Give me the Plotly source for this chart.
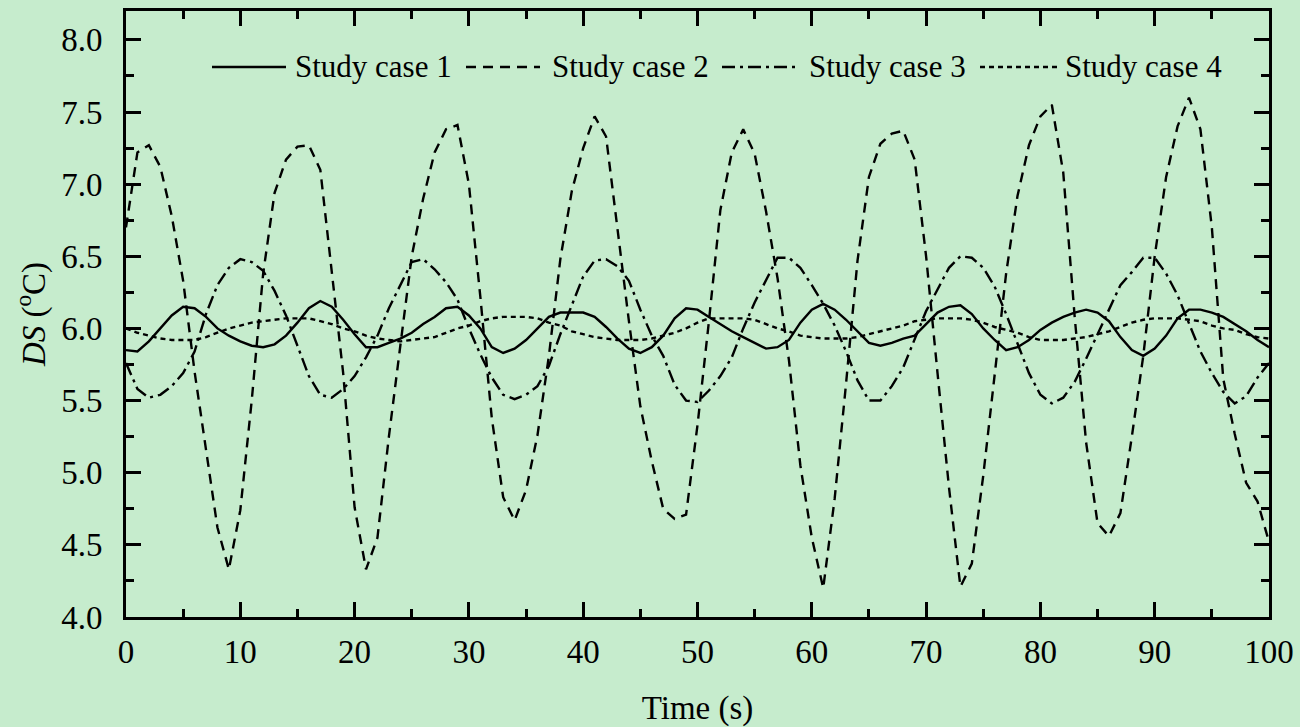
import plotly.graph_objects as go

# ---- data ----
time_s = list(range(0, 101))

case1 = [5.85, 5.84, 5.91, 6.00, 6.09, 6.15, 6.14, 6.08, 6.00, 5.95,
         5.91, 5.88, 5.87, 5.89, 5.95, 6.04, 6.14, 6.19, 6.15, 6.06,
         5.96, 5.87, 5.87, 5.90, 5.93, 5.97, 6.03, 6.08, 6.14, 6.15,
         6.09, 6.00, 5.87, 5.83, 5.86, 5.92, 6.00, 6.08, 6.11, 6.11,
         6.11, 6.08, 6.01, 5.93, 5.86, 5.83, 5.87, 5.95, 6.07, 6.14,
         6.13, 6.08, 6.03, 5.98, 5.94, 5.90, 5.86, 5.87, 5.92, 6.04,
         6.13, 6.17, 6.13, 6.06, 5.98, 5.90, 5.88, 5.90, 5.93, 5.95,
         6.03, 6.11, 6.15, 6.16, 6.10, 6.00, 5.92, 5.85, 5.87, 5.92,
         5.99, 6.04, 6.08, 6.11, 6.13, 6.11, 6.05, 5.94, 5.85, 5.81,
         5.86, 5.95, 6.07, 6.13, 6.13, 6.11, 6.08, 6.03, 5.98, 5.92,
         5.87]

case2 = [6.70, 7.22, 7.27, 7.12, 6.78, 6.33, 5.70, 5.17, 4.62, 4.33,
         4.74, 5.50, 6.38, 6.94, 7.17, 7.26, 7.27, 7.10, 6.38, 5.69,
         4.76, 4.33, 4.55, 5.25, 5.88, 6.50, 6.90, 7.22, 7.38, 7.41,
         7.00, 6.22, 5.38, 4.83, 4.67, 4.88, 5.26, 5.81, 6.48, 6.95,
         7.25, 7.47, 7.33, 6.69, 6.05, 5.46, 5.08, 4.75, 4.68, 4.71,
         5.33, 6.05, 6.82, 7.22, 7.38, 7.21, 6.81, 6.35, 5.78, 5.05,
         4.55, 4.20, 4.82, 5.62, 6.47, 7.05, 7.28, 7.35, 7.37, 7.17,
         6.50, 5.69, 4.90, 4.21, 4.37, 4.98, 5.69, 6.38, 6.92, 7.27,
         7.47, 7.55, 7.08, 6.08, 5.21, 4.65, 4.56, 4.72, 5.25, 5.81,
         6.50, 7.05, 7.40, 7.60, 7.38, 6.70, 5.65, 5.27, 4.93, 4.80,
         4.52]

case3 = [5.76, 5.58, 5.52, 5.54, 5.60, 5.69, 5.84, 6.10, 6.30, 6.42,
         6.48, 6.46, 6.40, 6.26, 6.09, 5.88, 5.67, 5.54, 5.52, 5.58,
         5.67, 5.80, 5.95, 6.14, 6.30, 6.46, 6.48, 6.41, 6.32, 6.20,
         6.00, 5.82, 5.66, 5.54, 5.51, 5.54, 5.60, 5.74, 5.96, 6.16,
         6.36, 6.47, 6.48, 6.43, 6.33, 6.13, 5.95, 5.81, 5.61, 5.50,
         5.49, 5.57, 5.67, 5.80, 6.00, 6.18, 6.34, 6.49, 6.49, 6.42,
         6.30, 6.17, 6.02, 5.84, 5.64, 5.50, 5.50, 5.60, 5.73, 5.92,
         6.12, 6.27, 6.42, 6.50, 6.49, 6.42, 6.29, 6.10, 5.89, 5.69,
         5.54, 5.48, 5.52, 5.63, 5.79, 5.96, 6.14, 6.30, 6.39, 6.49,
         6.49, 6.38, 6.23, 6.03, 5.84, 5.69, 5.56, 5.48, 5.53, 5.66,
         5.76]

case4 = [6.00, 5.97, 5.95, 5.93, 5.92, 5.92, 5.92, 5.94, 5.97, 6.00,
         6.02, 6.04, 6.05, 6.06, 6.07, 6.07, 6.07, 6.05, 6.03, 6.00,
         5.98, 5.95, 5.93, 5.92, 5.91, 5.92, 5.93, 5.94, 5.97, 6.00,
         6.02, 6.05, 6.07, 6.08, 6.08, 6.08, 6.07, 6.04, 6.02, 5.98,
         5.96, 5.94, 5.93, 5.92, 5.92, 5.92, 5.93, 5.95, 5.97, 6.00,
         6.04, 6.07, 6.07, 6.07, 6.07, 6.06, 6.03, 6.00, 5.98, 5.95,
         5.94, 5.93, 5.93, 5.93, 5.94, 5.96, 5.98, 6.00, 6.02, 6.05,
         6.06, 6.07, 6.07, 6.07, 6.06, 6.04, 6.01, 5.99, 5.97, 5.94,
         5.92, 5.92, 5.92, 5.93, 5.94, 5.96, 5.98, 6.01, 6.04, 6.06,
         6.07, 6.07, 6.07, 6.06, 6.05, 6.02, 6.00, 5.99, 5.96, 5.94,
         5.93]

series_names = ["Study case 1", "Study case 2", "Study case 3", "Study case 4"]
series_values = [case1, case2, case3, case4]

x_ticks = list(range(0, 101, 10))
y_ticks = [4.0, 4.5, 5.0, 5.5, 6.0, 6.5, 7.0, 7.5, 8.0]

# ---- styles ----
FONT = "Liberation Serif, Times New Roman, serif"
BG = "#C6ECCD"
dashes = ["solid", "10px,7px", "13px,5px,3px,5px", "5px,4px"]
LW = 2.4

fig = go.Figure()
for name, vals, dash in zip(series_names, series_values, dashes):
    fig.add_trace(go.Scatter(x=time_s, y=vals, mode="lines", name=name,
                             line=dict(color="black", width=LW, dash=dash),
                             showlegend=False))

# custom legend (long line samples like the reference)
leg_y = 0.9076
x0_px, x1_px = 126.0, 1269.0
def px2paper(px):
    return (px - x0_px) / (x1_px - x0_px)

leg_lines = [(212, 286), (466, 540), (722, 798), (980, 1057)]
leg_text_x = [293, 550, 807, 1063]
for (a, b), tx, name, dash in zip(leg_lines, leg_text_x, series_names, dashes):
    fig.add_shape(type="line", xref="paper", yref="paper",
                  x0=px2paper(a), x1=px2paper(b), y0=leg_y, y1=leg_y,
                  line=dict(color="black", width=LW, dash=dash))
    fig.add_annotation(xref="paper", yref="paper", x=px2paper(tx), y=leg_y,
                       xanchor="left", yanchor="middle", text=name,
                       showarrow=False, font=dict(family=FONT, size=31, color="black"))

axis_common = dict(
    showline=True, linecolor="black", linewidth=2.7, mirror="ticks",
    ticks="inside", tickcolor="black", tickwidth=2.5, ticklen=15,
    showgrid=False, zeroline=False,
    tickfont=dict(family=FONT, size=33, color="black"),
)

fig.update_xaxes(
    range=[0, 100], tickmode="array", tickvals=x_ticks,
    ticktext=[str(v) for v in x_ticks],
    minor=dict(ticks="inside", ticklen=8, tickwidth=2.5, tickcolor="black", dtick=5, showgrid=False),
    title=dict(text="Time (s)", font=dict(family=FONT, size=33, color="black"), standoff=32),
    ticklabelstandoff=4,
    **axis_common)

fig.update_yaxes(
    range=[4.0, 8.2], tickmode="array", tickvals=y_ticks,
    ticktext=[f"{v:.1f}" for v in y_ticks],
    minor=dict(ticks="inside", ticklen=8, tickwidth=2.5, tickcolor="black", dtick=0.25, tick0=4.0, showgrid=False),
    title=dict(text="<i>DS</i> (<sup>o</sup>C)", font=dict(family=FONT, size=33, color="black"), standoff=6),
    ticklabelstandoff=14,
    **axis_common)

fig.update_layout(
    width=1300, height=727,
    margin=dict(l=126, r=31, t=11, b=110, autoexpand=False),
    paper_bgcolor=BG, plot_bgcolor=BG,
    font=dict(family=FONT, color="black"),
    showlegend=False,
)

fig.write_html(
    "out.html",
    config={"displayModeBar": False},
    post_script="document.body.style.margin='0';document.body.style.overflow='hidden';"
                "document.documentElement.style.background='" + BG + "';",
)
